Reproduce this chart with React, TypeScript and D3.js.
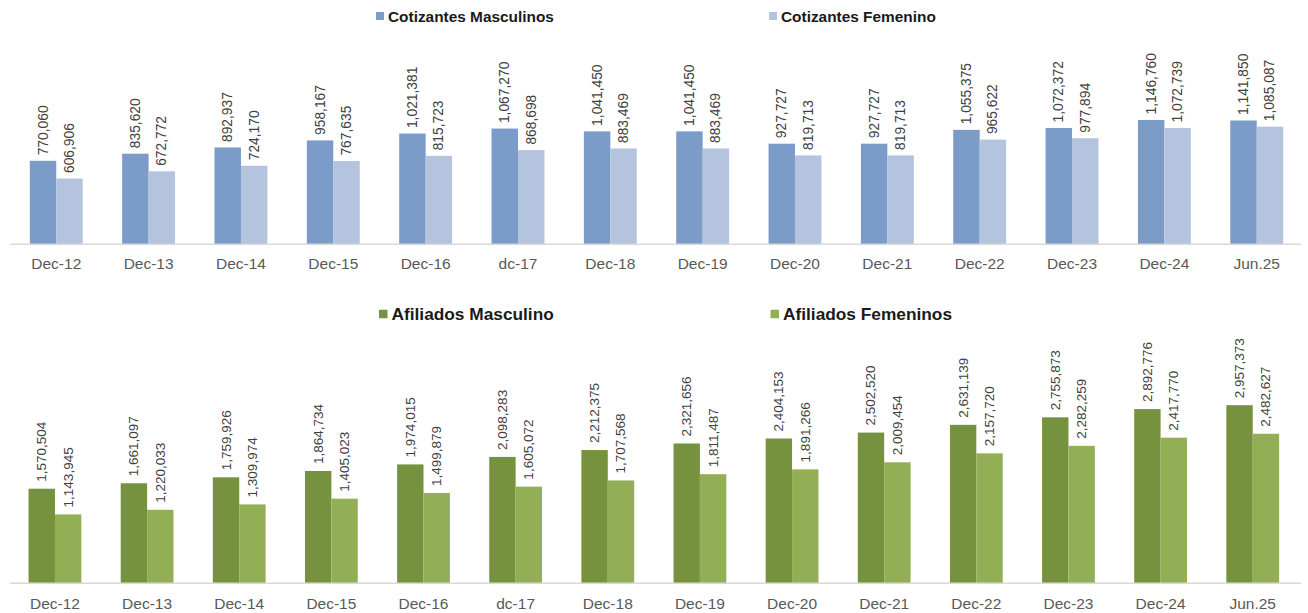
import React from "react";
import * as d3 from "d3";

const categories = ["Dec-12","Dec-13","Dec-14","Dec-15","Dec-16","dc-17","Dec-18","Dec-19","Dec-20","Dec-21","Dec-22","Dec-23","Dec-24","Jun.25"];
const cotizantesMasculinos = [770060,835620,892937,958167,1021381,1067270,1041450,1041450,927727,927727,1055375,1072372,1146760,1141850];
const cotizantesFemenino = [606906,672772,724170,767635,815723,868698,883469,883469,819713,819713,965622,977894,1072739,1085087];
const afiliadosMasculino = [1570504,1661097,1759926,1864734,1974015,2098283,2212375,2321656,2404153,2502520,2631139,2755873,2892776,2957373];
const afiliadosFemeninos = [1143945,1220033,1309974,1405023,1499879,1605072,1707568,1811487,1891266,2009454,2157720,2282259,2417770,2482627];

const FONT = "'Liberation Sans', Arial, sans-serif";
const fmt = d3.format(",");

type PanelProps = {
  a: number[]; b: number[]; names: [string, string]; colors: [string, string];
  x0: number; x1: number; base: number; yMax: number; top: number;
  legendY: number; legendFont: number; legendX: [number, number]; markerSize: number;
  labelY: number; valueFont: number; gap: number;
};

function Panel(p: PanelProps) {
  const x = d3.scaleBand<string>().domain(categories).range([p.x0, p.x1]).padding(0);
  const y = d3.scaleLinear().domain([0, p.yMax]).range([p.base, p.top]);
  const bw = x.bandwidth() * 0.2865;
  const series = [p.a, p.b];
  return (
    <g>
      {p.names.map((n, i) => (
        <g key={n}>
          <rect x={p.legendX[i]} y={p.legendY - p.markerSize / 2} width={p.markerSize} height={p.markerSize} fill={p.colors[i]} />
          <text x={p.legendX[i] + p.markerSize + 4} y={p.legendY} dominantBaseline="central" fontFamily={FONT} fontWeight="bold" fontSize={p.legendFont} fill="#1a1a1a">{n}</text>
        </g>
      ))}
      {categories.map((c, ci) => {
        const cx = (x(c) as number) + x.bandwidth() / 2;
        return (
          <g key={c}>
            {series.map((s, si) => {
              const bx = cx - bw + si * bw;
              const v = s[ci];
              const yt = y(v);
              return (
                <g key={si}>
                  <rect x={bx} y={yt} width={bw} height={p.base - yt} fill={p.colors[si]} />
                  <text transform={`translate(${bx + bw / 2},${yt - p.gap}) rotate(-90)`} dominantBaseline="central" textAnchor="start" fontFamily={FONT} fontSize={p.valueFont} fill="#404040">{fmt(v)}</text>
                </g>
              );
            })}
            <text x={cx} y={p.labelY} textAnchor="middle" dominantBaseline="central" fontFamily={FONT} fontSize={15.5} fill="#595959">{c}</text>
          </g>
        );
      })}
      <line x1={10} x2={1301} y1={p.base} y2={p.base} stroke="#d9d9d9" strokeWidth={1.5} />
    </g>
  );
}

export default function App() {
  return (
    <svg width={1308} height={613} style={{ position: "absolute", left: 0, top: 0, background: "#fff" }}>
      <Panel a={cotizantesMasculinos} b={cotizantesFemenino}
        names={["Cotizantes Masculinos", "Cotizantes Femenino"]} colors={["#7b9bc8", "#b4c4df"]}
        x0={10.1} x1={1302.9} base={244.3} yMax={1400000} top={92.5}
        legendY={16} legendFont={15.4} legendX={[376, 769]} markerSize={8}
        labelY={263.5} valueFont={13.8} gap={5.5} />
      <Panel a={afiliadosMasculino} b={afiliadosFemeninos}
        names={["Afiliados Masculino", "Afiliados Femeninos"]} colors={["#77923f", "#93af55"]}
        x0={8.9} x1={1298.8} base={583.3} yMax={3500000} top={372.5}
        legendY={314} legendFont={17.3} legendX={[379, 770.5]} markerSize={8.5}
        labelY={603} valueFont={13.5} gap={7} />
    </svg>
  );
}
